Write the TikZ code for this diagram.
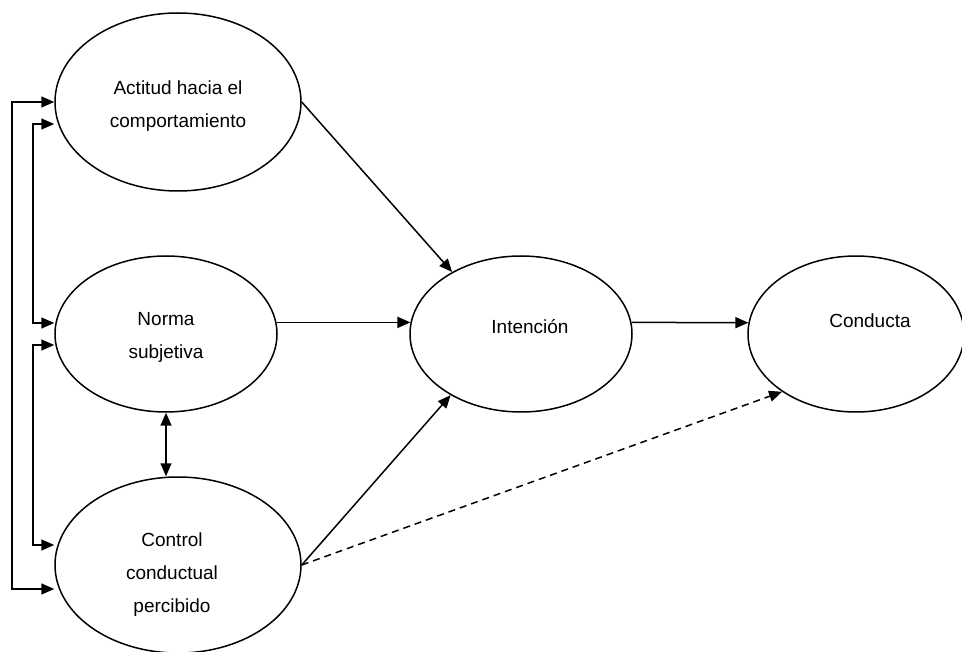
\documentclass[tikz,border=0pt]{standalone}
\usepackage{fontspec}
\setmainfont{Liberation Sans}
\usetikzlibrary{shapes.geometric,arrows.meta}

\tikzset{
  nodo/.style={draw,ellipse,line width=1.5pt,inner sep=0pt},
  texto/.style={align=center,inner sep=0pt,font=\fontsize{19}{33}\selectfont},
  flecha/.style={line width=1.5pt,-{Triangle[length=13pt,width=11pt]}},
  doble/.style={line width=1.5pt,{Triangle[length=13pt,width=11pt]}-{Triangle[length=13pt,width=11pt]}}
}

\begin{document}
\begin{tikzpicture}[x=1pt,y=-1pt]
  \useasboundingbox (0,0) rectangle (962,652);
  % constructos
  \node[nodo,minimum width=246pt,minimum height=178pt] (act) at (178,102) {};
  \node[nodo,minimum width=222pt,minimum height=156pt] (nor) at (166,334) {};
  \node[nodo,minimum width=246pt,minimum height=176pt] (ctl) at (178,565) {};
  \node[nodo,minimum width=222pt,minimum height=156pt] (int) at (521,334) {};
  \node[nodo,minimum width=216pt,minimum height=156pt] (con) at (856,334) {};
  \node[texto] (act-t) at (178,106) {Actitud hacia el\\comportamiento};
  \node[texto] (nor-t) at (166,337) {Norma\\subjetiva};
  \node[texto] (ctl-t) at (172,575) {Control\\conductual\\percibido};
  \node[texto] (int-t) at (530,327) {Intención};
  \node[texto] (con-t) at (870,321) {Conducta};
  % esquinas de las correlaciones
  \coordinate (o1) at (12,102);
  \coordinate (o2) at (12,589);
  \coordinate (a1) at (33,124);
  \coordinate (a2) at (33,323);
  \coordinate (b1) at (33,345);
  \coordinate (b2) at (33,545);
  \draw[doble] (act.west) -- (o1) -- (o2) -- (o2 -| ctl.west);
  \draw[doble] (a1 -| act.west) -- (a1) -- (a2) -- (a2 -| nor.west);
  \draw[doble] (b1 -| nor.west) -- (b1) -- (b2) -- (b2 -| ctl.west);
  \draw[doble] (nor.south) -- (nor.south |- ctl.north);
  % efectos
  \draw[flecha] (act.east) -- (int.138);
  \draw[flecha] (nor.6) -- (int.174);
  \draw[flecha] (ctl.east) -- (int.221);
  \draw[flecha] (int.6) -- (con.174);
  \draw[flecha,dash pattern=on 7pt off 5pt] (ctl.east) -- (con.218);
\end{tikzpicture}
\end{document}
